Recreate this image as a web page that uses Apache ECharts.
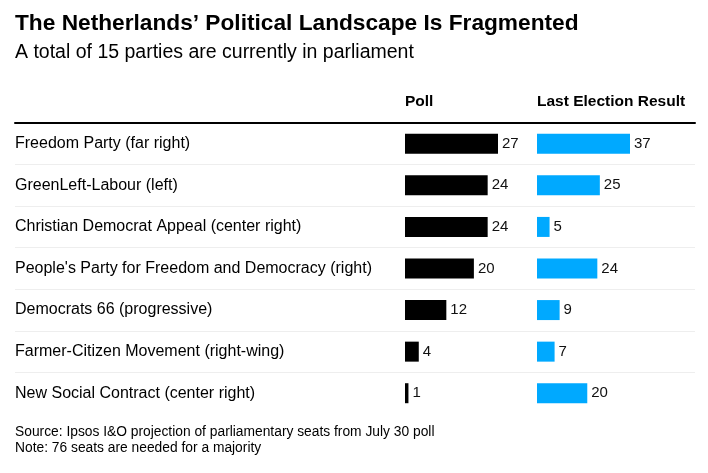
<!DOCTYPE html>
<html>
<head>
<meta charset="utf-8">
<script src="https://cdn.jsdelivr.net/npm/echarts@6/dist/echarts.min.js"></script>
<style>
  html, body { margin: 0; padding: 0; background: #fff; }
  #chart { width: 708px; height: 473px; }
</style>
</head>
<body>
<div id="chart"></div>
<script>
// parties, top to bottom
const parties = [
  'Freedom Party (far right)',
  'GreenLeft-Labour (left)',
  'Christian Democrat Appeal (center right)',
  "People's Party for Freedom and Democracy (right)",
  'Democrats 66 (progressive)',
  'Farmer-Citizen Movement (right-wing)',
  'New Social Contract (center right)'
];
const pollSeats = [27, 24, 24, 20, 12, 4, 1];
const electionSeats = [37, 25, 5, 24, 9, 7, 20];

const FONT = 'Liberation Sans, Arial, sans-serif';
const rowTop = 123;
const rowsHeight = 291;

const chart = echarts.init(document.getElementById('chart'));

const valueLabel = {
  show: true,
  position: 'right',
  distance: 4,
  color: '#111',
  fontSize: 15,
  fontFamily: FONT
};

const option = {
  animation: false,
  title: [
    {
      text: 'The Netherlands\u2019 Political Landscape Is Fragmented',
      left: 15, top: 12, padding: 0,
      textStyle: { fontFamily: FONT, fontSize: 22.7, fontWeight: 'bold', color: '#000' }
    },
    {
      text: 'A total of 15 parties are currently in parliament',
      left: 15, top: 43, padding: 0,
      textStyle: { fontFamily: FONT, fontSize: 19.5, fontWeight: 'normal', color: '#000' }
    },
    {
      text: 'Source: Ipsos I&O projection of parliamentary seats from July 30 poll\nNote: 76 seats are needed for a majority',
      left: 15, top: 424, padding: 0,
      textStyle: { fontFamily: FONT, fontSize: 13.8, fontWeight: 'normal', color: '#000', lineHeight: 16 }
    }
  ],
  graphic: [
    {
      type: 'text', left: 405, top: 94,
      style: { text: 'Poll', font: 'bold 15.5px ' + FONT, fill: '#000' }
    },
    {
      type: 'text', left: 537, top: 94,
      style: { text: 'Last Election Result', font: 'bold 15.5px ' + FONT, fill: '#000' }
    }
  ],
  grid: [
    // full-width grid for row separators and header rule
    { left: 15, right: 13, top: rowTop, height: rowsHeight },
    // poll bars
    { left: 405, width: 93, top: rowTop, height: rowsHeight },
    // last election bars
    { left: 537, width: 93, top: rowTop, height: rowsHeight }
  ],
  xAxis: [
    {
      gridIndex: 0, type: 'value', position: 'top', min: 0, max: 1,
      axisLine: { show: true, onZero: false, lineStyle: { color: '#000', width: 2 } },
      axisTick: { show: false }, axisLabel: { show: false }, splitLine: { show: false }
    },
    {
      gridIndex: 1, type: 'value', min: 0, max: Math.max(...pollSeats),
      axisLine: { show: false }, axisTick: { show: false },
      axisLabel: { show: false }, splitLine: { show: false }
    },
    {
      gridIndex: 2, type: 'value', min: 0, max: Math.max(...electionSeats),
      axisLine: { show: false }, axisTick: { show: false },
      axisLabel: { show: false }, splitLine: { show: false }
    }
  ],
  yAxis: [
    {
      gridIndex: 0, type: 'category', data: parties, inverse: true,
      axisLine: { show: false }, axisTick: { show: false },
      axisLabel: {
        show: true, align: 'left', margin: 0, inside: true,
        color: '#000', fontSize: 16, fontFamily: FONT
      },
      splitLine: {
        show: true,
        showMaxLine: false,
        lineStyle: { color: '#eeeeee', width: 1 }
      }
    },
    {
      gridIndex: 1, type: 'category', data: parties, inverse: true,
      axisLine: { show: false }, axisTick: { show: false },
      axisLabel: { show: false }, splitLine: { show: false }
    },
    {
      gridIndex: 2, type: 'category', data: parties, inverse: true,
      axisLine: { show: false }, axisTick: { show: false },
      axisLabel: { show: false }, splitLine: { show: false }
    }
  ],
  series: [
    {
      name: 'Poll', type: 'bar', xAxisIndex: 1, yAxisIndex: 1,
      data: pollSeats, barWidth: 20,
      itemStyle: { color: '#000' },
      label: valueLabel
    },
    {
      name: 'Last Election Result', type: 'bar', xAxisIndex: 2, yAxisIndex: 2,
      data: electionSeats, barWidth: 20,
      itemStyle: { color: '#00a9ff' },
      label: valueLabel
    }
  ]
};

chart.setOption(option);
</script>
</body>
</html>
